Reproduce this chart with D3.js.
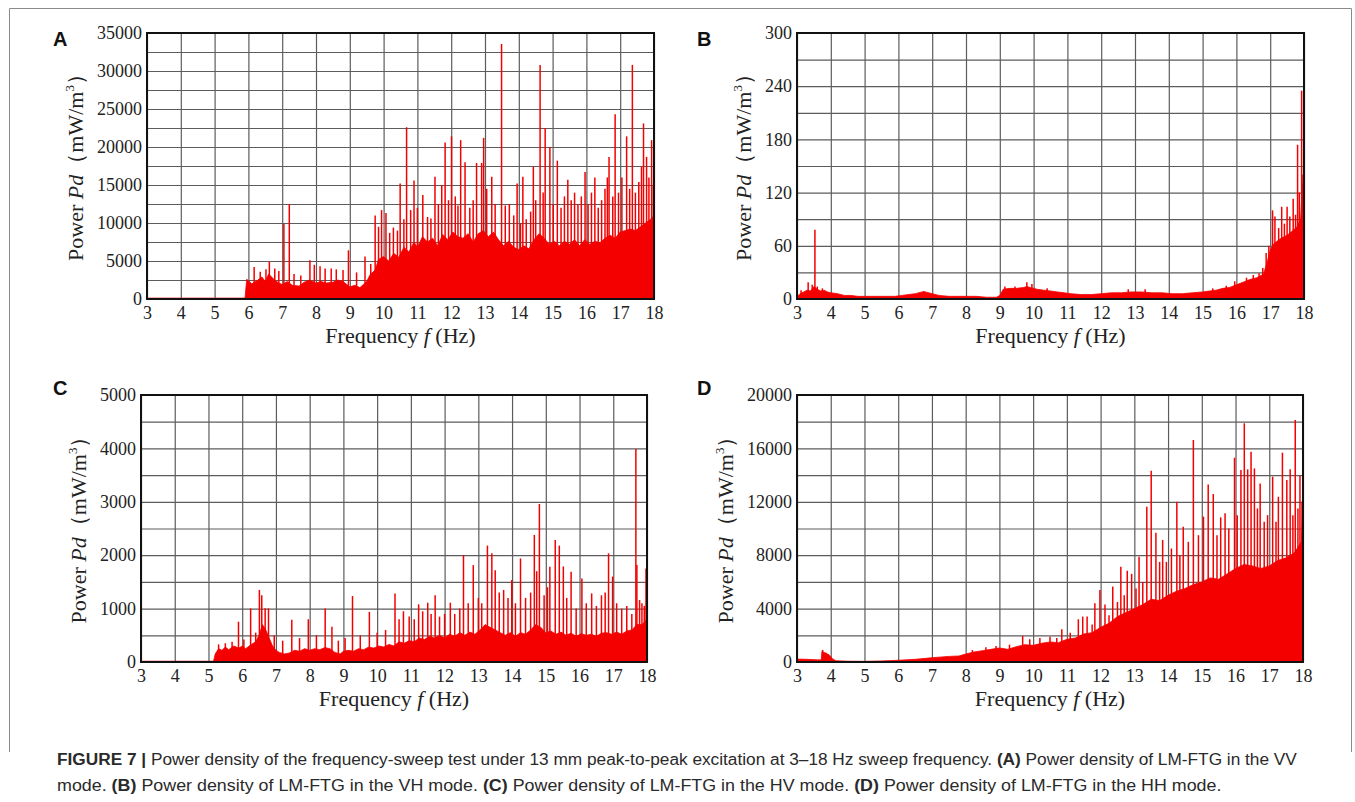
<!DOCTYPE html>
<html>
<head>
<meta charset="utf-8">
<script src="https://cdn.jsdelivr.net/npm/d3@7"></script>
<style>
  body { margin: 0; background: #fff; }
</style>
</head>
<body>
<svg id="fig" width="1355" height="802" font-family="Liberation Serif, Times New Roman, serif"></svg>
<script>
// frequency axis, shared by the four panels
var freqTicks = [3, 4, 5, 6, 7, 8, 9, 10, 11, 12, 13, 14, 15, 16, 17, 18];

// y ticks (labelled) and grid lines per panel
var ticksA = [0, 5000, 10000, 15000, 20000, 25000, 30000, 35000];
var gridA = [0, 2500, 5000, 7500, 10000, 12500, 15000, 17500, 20000, 22500, 25000, 27500, 30000, 32500, 35000];
var ticksB = [0, 60, 120, 180, 240, 300];
var gridB = [0, 30, 60, 90, 120, 150, 180, 210, 240, 270, 300];
var ticksC = [0, 1000, 2000, 3000, 4000, 5000];
var gridC = [0, 500, 1000, 1500, 2000, 2500, 3000, 3500, 4000, 4500, 5000];
var ticksD = [0, 4000, 8000, 12000, 16000, 20000];
var gridD = [0, 2000, 4000, 6000, 8000, 10000, 12000, 14000, 16000, 18000, 20000];

// dense part of each spectrum [f (Hz), Pd]
var baseA = [[3,120],[5.9,120],[5.95,2600],[6.1,2000],[6.25,2400],[6.4,2900],[6.5,2300],[6.6,3300],[6.75,2600],[6.9,2100],[7.0,1900],[7.15,2300],[7.3,1800],[7.5,1700],[7.65,2200],[7.8,2500],[8.0,2100],[8.15,2300],[8.3,2100],[8.5,2200],[8.65,2500],[8.8,2300],[9.0,1600],[9.15,1800],[9.3,1500],[9.5,2300],[9.6,3200],[9.75,3800],[9.85,5200],[10.0,5600],[10.15,5000],[10.3,6000],[10.45,5500],[10.6,6800],[10.75,6200],[10.9,7500],[11.0,6800],[11.15,8200],[11.3,7500],[11.45,8000],[11.6,7000],[11.75,8500],[11.9,7800],[12.05,8800],[12.2,8200],[12.35,8000],[12.5,8600],[12.65,7500],[12.8,8600],[12.95,9000],[13.1,8200],[13.25,8800],[13.4,7800],[13.55,7000],[13.7,7600],[13.85,6800],[14.0,6500],[14.15,7000],[14.3,6600],[14.45,7800],[14.6,8600],[14.75,8000],[14.9,7200],[15.05,7600],[15.2,7000],[15.35,7600],[15.5,7200],[15.65,7800],[15.8,7000],[15.95,7800],[16.1,7200],[16.25,7600],[16.4,7400],[16.55,8000],[16.7,8400],[16.85,8000],[17.0,8800],[17.15,9000],[17.3,9200],[17.45,9000],[17.6,9500],[17.75,10000],[17.9,10500],[18,11000]];
var baseB = [[3,3],[3.1,6],[3.2,8],[3.3,10],[3.4,9],[3.5,14],[3.6,11],[3.7,9],[3.8,10],[3.9,8],[4.0,7],[4.2,6],[4.4,4],[4.6,4],[4.8,3],[5.0,3],[5.3,3],[5.6,3],[5.9,3],[6.1,4],[6.3,5],[6.5,6],[6.7,8],[6.8,8],[7.0,6],[7.2,4],[7.5,3],[7.8,3],[8.0,3],[8.3,3],[8.6,2],[8.9,2],[9.0,4],[9.1,11],[9.3,12],[9.5,12],[9.7,13],[9.8,14],[9.9,13],[10.1,11],[10.3,10],[10.5,9],[10.7,8],[10.9,7],[11.1,6],[11.4,5],[11.7,5],[12.0,6],[12.3,7],[12.6,7],[12.9,8],[13.2,8],[13.5,7],[13.8,7],[14.1,6],[14.4,6],[14.7,7],[15.0,8],[15.2,9],[15.4,10],[15.6,12],[15.8,13],[16.0,16],[16.2,19],[16.4,22],[16.6,24],[16.8,28],[16.9,40],[17.0,55],[17.1,62],[17.2,65],[17.3,68],[17.4,70],[17.5,72],[17.6,75],[17.7,78],[17.8,82],[17.9,90],[17.95,130],[18,130]];
var baseC = [[3,15],[5.15,15],[5.2,150],[5.3,250],[5.4,220],[5.5,280],[5.6,230],[5.75,300],[5.9,260],[6.0,300],[6.1,250],[6.25,320],[6.4,380],[6.5,500],[6.6,700],[6.7,600],[6.8,450],[6.9,300],[7.0,220],[7.1,180],[7.25,150],[7.4,170],[7.55,220],[7.7,200],[7.85,250],[8.0,220],[8.15,250],[8.3,230],[8.45,270],[8.6,250],[8.75,180],[8.9,150],[9.0,200],[9.15,220],[9.3,200],[9.45,250],[9.6,230],[9.75,280],[9.9,260],[10.05,300],[10.2,280],[10.35,330],[10.5,300],[10.65,380],[10.8,350],[10.95,400],[11.1,380],[11.25,450],[11.4,420],[11.55,480],[11.7,450],[11.85,500],[12.0,450],[12.15,520],[12.3,480],[12.45,550],[12.6,500],[12.75,560],[12.9,520],[13.05,600],[13.2,700],[13.35,650],[13.5,600],[13.65,550],[13.8,500],[13.95,550],[14.1,480],[14.25,550],[14.4,520],[14.55,600],[14.7,700],[14.85,650],[15.0,550],[15.15,580],[15.3,520],[15.45,560],[15.6,500],[15.75,540],[15.9,480],[16.05,530],[16.2,500],[16.35,520],[16.5,480],[16.65,540],[16.8,550],[16.95,520],[17.1,560],[17.25,520],[17.4,580],[17.55,600],[17.7,700],[17.85,700],[18,800]];
var baseD = [[3,220],[3.3,200],[3.6,160],[3.72,160],[3.74,800],[3.85,650],[3.95,550],[4.05,250],[4.15,100],[4.5,60],[5.0,50],[5.5,80],[6.0,130],[6.5,200],[7.0,320],[7.5,420],[7.8,450],[8.0,600],[8.25,750],[8.5,850],[8.75,950],[9.0,1050],[9.25,950],[9.5,1150],[9.75,1300],[10.0,1250],[10.25,1400],[10.5,1500],[10.75,1450],[11.0,1700],[11.25,1800],[11.5,2100],[11.75,2200],[12.0,2600],[12.25,2900],[12.5,3400],[12.75,3700],[13.0,4000],[13.25,4300],[13.5,4700],[13.75,4600],[14.0,5000],[14.25,5300],[14.5,5500],[14.75,5800],[15.0,6000],[15.25,6300],[15.5,6200],[15.75,6600],[16.0,7000],[16.25,7300],[16.5,7200],[16.75,7000],[17.0,7200],[17.25,7600],[17.5,7800],[17.75,8200],[17.95,9000],[18,12000]];

// isolated peaks [f (Hz), Pd]
var spikesA = [[6.17,4200],[6.35,3600],[6.52,3900],[6.62,4900],[6.78,4000],[6.9,3700],[7.05,9900],[7.21,12500],[7.35,3300],[7.55,3100],[7.82,5100],[7.95,4500],[8.12,4300],[8.27,4000],[8.45,4000],[8.6,3900],[8.8,3800],[8.96,6400],[9.2,3500],[9.45,5600],[9.62,4600],[9.75,11000],[9.85,9500],[9.94,11700],[10.07,11300],[10.18,8700],[10.29,9400],[10.41,9000],[10.49,15200],[10.6,10500],[10.68,22600],[10.8,11700],[10.9,15600],[11.0,12000],[11.16,13700],[11.3,10800],[11.4,10600],[11.52,16100],[11.62,12500],[11.72,15000],[11.82,20600],[11.92,13000],[12.01,21400],[12.12,13500],[12.2,12300],[12.28,20900],[12.41,18000],[12.55,12000],[12.65,13000],[12.75,17900],[12.9,17900],[12.96,21200],[13.05,14500],[13.2,16100],[13.3,12500],[13.49,33550],[13.6,12300],[13.72,12500],[13.85,11000],[13.95,15200],[14.05,10000],[14.12,16100],[14.22,10500],[14.35,11500],[14.43,17400],[14.5,13000],[14.63,30800],[14.72,14000],[14.78,22500],[14.92,20000],[15.02,12500],[15.14,18200],[15.25,12000],[15.35,13500],[15.45,15700],[15.55,13000],[15.65,14000],[15.75,12500],[15.85,13500],[15.96,16700],[16.05,12500],[16.15,14000],[16.25,16000],[16.35,12000],[16.45,13000],[16.55,14500],[16.62,16000],[16.67,18700],[16.78,13500],[16.85,24300],[16.95,14000],[17.05,16000],[17.19,21400],[17.28,14500],[17.36,30800],[17.45,14000],[17.55,15400],[17.63,17400],[17.69,23100],[17.78,18700],[17.85,16000],[17.93,20900],[17.98,15000]];
var spikesB = [[3.12,10],[3.33,19],[3.45,16],[3.53,78],[3.6,14],[3.75,12],[6.75,9],[9.15,14],[9.45,14],[9.8,19],[9.95,17],[10.4,12],[12.8,11],[13.3,11],[15.3,12],[15.7,15],[15.95,20],[16.3,24],[16.5,27],[16.67,29],[16.78,35],[16.88,52],[16.96,60],[17.0,42],[17.07,100],[17.14,93],[17.25,80],[17.34,104],[17.42,85],[17.5,104],[17.58,93],[17.68,113],[17.75,95],[17.81,174],[17.86,120],[17.93,235],[17.97,140]];
var spikesC = [[5.3,330],[5.5,350],[5.7,380],[5.89,755],[6.05,420],[6.25,1005],[6.4,550],[6.51,1350],[6.58,1250],[6.68,1005],[6.78,1005],[6.95,500],[7.2,400],[7.47,790],[7.7,450],[7.96,800],[8.2,500],[8.46,1000],[8.66,660],[8.85,400],[9.05,450],[9.27,1235],[9.5,500],[9.77,940],[10.0,550],[10.25,600],[10.53,1285],[10.65,800],[10.78,950],[10.95,850],[11.1,800],[11.23,1080],[11.35,950],[11.5,1110],[11.6,900],[11.72,1250],[11.85,850],[12.0,900],[12.17,1110],[12.3,900],[12.45,1000],[12.56,2000],[12.7,1100],[12.85,1815],[13.0,1200],[13.1,1100],[13.27,2180],[13.4,2035],[13.5,1720],[13.62,1300],[13.75,1350],[13.88,1200],[13.99,1535],[14.1,1100],[14.25,1940],[14.4,1200],[14.55,1300],[14.66,2380],[14.73,1700],[14.81,2960],[14.95,1250],[15.05,1400],[15.12,1785],[15.28,2285],[15.4,2180],[15.52,1790],[15.62,1200],[15.75,1690],[15.9,1000],[16.07,1565],[16.2,1100],[16.36,1285],[16.5,1050],[16.65,1250],[16.76,1300],[16.86,2035],[16.98,1600],[17.1,1100],[17.25,1000],[17.4,1050],[17.55,900],[17.67,3990],[17.7,1815],[17.78,1160],[17.85,1100],[17.92,1050],[17.97,1750]];
var spikesD = [[3.76,900],[3.85,700],[8.2,900],[8.6,1100],[8.9,1200],[9.3,1300],[9.69,1950],[9.9,1700],[10.2,1800],[10.5,1900],[10.7,1800],[10.85,2450],[11.1,2200],[11.34,3200],[11.47,3400],[11.6,3400],[11.75,2800],[11.83,4400],[11.98,5400],[12.13,4300],[12.25,3500],[12.36,5650],[12.5,4500],[12.6,7140],[12.7,5000],[12.79,6840],[12.92,6600],[13.05,5500],[13.14,7890],[13.25,6000],[13.37,11630],[13.5,14330],[13.64,9690],[13.75,7500],[13.84,9140],[13.95,7500],[14.1,8500],[14.26,12010],[14.35,8000],[14.45,10140],[14.6,9000],[14.75,16630],[14.9,9500],[15.05,10890],[15.19,13300],[15.34,12580],[15.45,9500],[15.56,10840],[15.69,11140],[15.8,10000],[15.97,15300],[16.05,11000],[16.16,14380],[16.26,17880],[16.36,14430],[16.46,15750],[16.56,14500],[16.65,11500],[16.73,13380],[16.85,10500],[16.95,11000],[17.1,13880],[17.2,10500],[17.27,12380],[17.39,15680],[17.52,13630],[17.62,14430],[17.7,11000],[17.77,18130],[17.85,11500],[17.91,13950],[17.97,12000]];

var RED = "#f50000";

var svg = d3.select("#fig");

// light frame round the figure
svg.append("path")
    .attr("d", "M9.5,752 V8.5 H1351.5 V752")
    .attr("fill", "none")
    .attr("stroke", "#8a8a8a")
    .attr("stroke-width", 1);

var panels = [
    { letter: "A", lx: 53, ly: 46, left: 147, right: 654, top: 33, bottom: 299, max: 35000, ticks: ticksA, grid: gridA, base: baseA, spikes: spikesA },
    { letter: "B", lx: 697, ly: 46, left: 797, right: 1304, top: 33, bottom: 299, max: 300, ticks: ticksB, grid: gridB, base: baseB, spikes: spikesB },
    { letter: "C", lx: 53, ly: 395, left: 141, right: 647, top: 395, bottom: 662, max: 5000, ticks: ticksC, grid: gridC, base: baseC, spikes: spikesC },
    { letter: "D", lx: 697, ly: 395, left: 797, right: 1303, top: 395, bottom: 662, max: 20000, ticks: ticksD, grid: gridD, base: baseD, spikes: spikesD }
];

panels.forEach(function (p) {
    var h = p.bottom - p.top, w = p.right - p.left;
    var x = d3.scaleLinear().domain([3, 18]).range([p.left, p.right]);
    var y = d3.scaleLinear().domain([0, p.max]).range([p.bottom, p.top]);
    var g = svg.append("g");

    // grid
    g.append("g")
        .attr("transform", "translate(0," + p.bottom + ")")
        .call(d3.axisBottom(x).tickValues(freqTicks).tickSize(-h).tickFormat(""))
        .call(function (s) { s.select(".domain").remove(); })
        .selectAll("line").attr("stroke", "#5c5c5c").attr("stroke-width", 1.2);
    g.append("g")
        .attr("transform", "translate(" + p.left + ",0)")
        .call(d3.axisLeft(y).tickValues(p.grid).tickSize(-w).tickFormat(""))
        .call(function (s) { s.select(".domain").remove(); })
        .selectAll("line").attr("stroke", "#5c5c5c").attr("stroke-width", 1.2);

    // dense spectrum
    g.append("path")
        .datum(p.base)
        .attr("fill", RED)
        .attr("stroke", RED)
        .attr("stroke-width", 0.8)
        .attr("d", d3.area()
            .x(function (d) { return x(d[0]); })
            .y0(y(0))
            .y1(function (d) { return y(d[1]); }));

    // peaks
    g.selectAll("line.spike")
        .data(p.spikes)
        .join("line")
        .attr("class", "spike")
        .attr("x1", function (d) { return x(d[0]); })
        .attr("x2", function (d) { return x(d[0]); })
        .attr("y1", y(0))
        .attr("y2", function (d) { return y(d[1]); })
        .attr("stroke", RED)
        .attr("stroke-width", 1.5);

    // plot frame
    g.append("rect")
        .attr("x", p.left).attr("y", p.top)
        .attr("width", w).attr("height", h)
        .attr("fill", "none")
        .attr("stroke", "#111")
        .attr("stroke-width", 2);

    // tick labels
    var xa = g.append("g")
        .attr("transform", "translate(0," + p.bottom + ")")
        .call(d3.axisBottom(x).tickValues(freqTicks).tickSize(0).tickPadding(7).tickFormat(d3.format("d")));
    var ya = g.append("g")
        .attr("transform", "translate(" + p.left + ",0)")
        .call(d3.axisLeft(y).tickValues(p.ticks).tickSize(0).tickPadding(5).tickFormat(d3.format("d")));
    [xa, ya].forEach(function (a) {
        a.select(".domain").remove();
        a.attr("font-family", "Liberation Serif, Times New Roman, serif").attr("font-size", 18);
        a.selectAll("text").attr("fill", "#222");
    });

    // x title
    var xt = g.append("text")
        .attr("x", (p.left + p.right) / 2)
        .attr("y", p.bottom + 44)
        .attr("text-anchor", "middle")
        .attr("font-size", 22)
        .attr("fill", "#222");
    xt.append("tspan").text("Frequency ");
    xt.append("tspan").attr("font-style", "italic").text("f");
    xt.append("tspan").text(" (Hz)");

    // y title, placed left of the widest tick label
    var labW = ya.node().getBBox().width;
    var tx = p.left - 5 - labW - 17;
    var yt = g.append("text")
        .attr("transform", "translate(" + tx + "," + ((p.top + p.bottom) / 2 - 4) + ") rotate(-90)")
        .attr("text-anchor", "middle")
        .attr("dy", "0.35em")
        .attr("font-size", 22)
        .attr("fill", "#222");
    yt.append("tspan").text("Power ");
    yt.append("tspan").attr("font-style", "italic").text("Pd");
    yt.append("tspan").text("（mW/m");
    yt.append("tspan").attr("font-size", 13).attr("dy", -9).text("3");
    yt.append("tspan").attr("dy", 9).text("）");

    // panel letter
    g.append("text")
        .attr("x", p.lx).attr("y", p.ly)
        .attr("font-family", "Liberation Sans, Arial, sans-serif")
        .attr("font-weight", "bold")
        .attr("font-size", 20)
        .attr("fill", "#111")
        .text(p.letter);
});

// caption
var capLines = [
    { y: 765, width: 1241, parts: [["FIGURE 7 | ", true], ["Power density of the frequency-sweep test under 13 mm peak-to-peak excitation at 3–18 Hz sweep frequency. ", false], ["(A)", true], [" Power density of LM-FTG in the VV", false]] },
    { y: 791, width: 1165, parts: [["mode. ", false], ["(B)", true], [" Power density of LM-FTG in the VH mode. ", false], ["(C)", true], [" Power density of LM-FTG in the HV mode. ", false], ["(D)", true], [" Power density of LM-FTG in the HH mode.", false]] }
];
capLines.forEach(function (c) {
    var t = svg.append("text")
        .attr("font-family", "Liberation Sans Narrow, Arial Narrow, Liberation Sans, sans-serif")
        .attr("font-size", 16)
        .attr("fill", "#2a2a2a");
    c.parts.forEach(function (pt) {
        t.append("tspan").attr("font-weight", pt[1] ? "bold" : "normal").text(pt[0]);
    });
    var len = t.node().getComputedTextLength();
    t.attr("transform", "translate(57," + c.y + ") scale(" + (c.width / len) + ",1)");
});
</script>
</body>
</html>
